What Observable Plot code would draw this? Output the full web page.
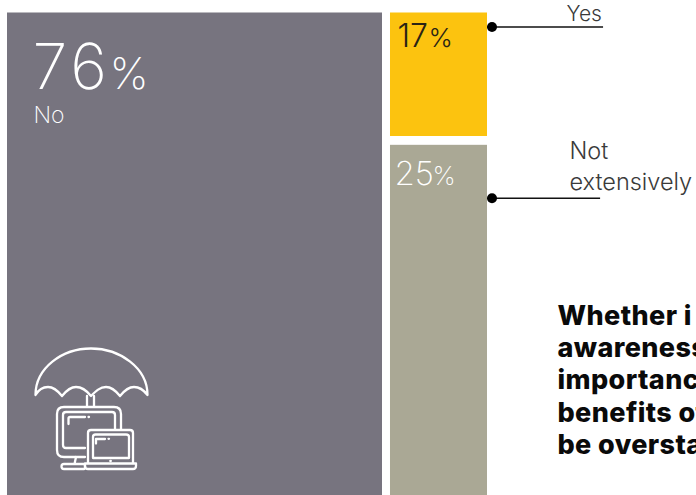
<!DOCTYPE html>
<html>
<head>
<meta charset="utf-8">
<script src="https://cdn.jsdelivr.net/npm/d3@7"></script>
<script src="https://cdn.jsdelivr.net/npm/@observablehq/plot@0.6"></script>
<style>
  html, body { margin: 0; padding: 0; background: #fff; overflow: hidden; }
  .plot { display: block; }
  .thin text { font-family: Inter, "Open Sans", sans-serif; font-weight: 300; }
  .hair text { font-family: Inter, "Open Sans", sans-serif; font-weight: 200; }
  .wide text { font-family: Inter, "Open Sans", sans-serif; font-weight: 200; letter-spacing: 4px; }
  .heavy text { font-family: Inter, sans-serif; font-weight: 800; letter-spacing: 0.4px; }
</style>
</head>
<body>
<script>
// Survey answers, in percent
const answers = ["No", "Yes", "Not extensively"];
const shares = [76, 17, 25];
const fills = ["#77747f", "#fcc30f", "#aaa895"];
const inkColors = ["#ffffff", "#2a2415", "#ffffff"];
const note = ["Whether i", "awareness", "importance", "benefits of", "be overstated"];

const sideStart = 77.62;  // left edge of the narrow column
const sideEnd = 97.28;    // right edge of the narrow column
const stackGap = 0.8;     // space between the stacked answers

const rows = [
  {answer: answers[0], share: shares[0], x1: 0, x2: shares[0], y1: 0, y2: shares[0], fill: fills[0], ink: inkColors[0]},
  {answer: answers[1], share: shares[1], x1: sideStart, x2: sideEnd, y1: 0, y2: shares[1], fill: fills[1], ink: inkColors[1]},
  {answer: answers[2], share: shares[2], x1: sideStart, x2: sideEnd, y1: shares[1] + stackGap, y2: shares[1] + stackGap + shares[2], fill: fills[2], ink: inkColors[2]}
];

// Device glyph under the umbrella, drawn in the frame's own pixels
function shelterIcon() {
  const g = d3.create("svg:g")
    .attr("fill", "none").attr("stroke", "#fff").attr("stroke-width", 2.3)
    .attr("stroke-linejoin", "round").attr("stroke-linecap", "round");
  const path = d => g.append("path").attr("d", d);
  path("M35.500 395C35.500 368 62 348.500 91 348.500C120 348.500 147.500 368 147.500 395C143 389 139 387 134 387C128 387 124 391 120 396C116 391 112 387 106 387C100 387 96 391 91 396C87 391 82 387 76 387C70 387 66 391 62 396C58 391 54 387 48 387C43 387 39 389 35.500 395Z");
  path("M87 396V406M94 396V406");
  path("M85 457H64Q57 457 57 450V414Q57 407 64 407H114Q121 407 121 414V429");
  path("M85 448H66Q63 448 63 445V415Q63 412 66 412H112Q115 412 115 415V429");
  path("M68.500 424V418.500Q68.500 417 70 417H85M88.500 417H89");
  path("M76 457L74.500 464M64 464H84Q85 464 85 466.500Q85 469 84 469H64Q61.500 469 61.500 466.500Q61.500 464 64 464Z");
  path("M88 463V433Q88 430 91 430H130Q133 430 133 433V463");
  path("M93 458V437Q93 434.500 95.500 434.500H126Q129 434.500 129 437V458Z");
  path("M96 443.500V439H105M108.500 438.800H109");
  path("M110.300 461H110.800");
  path("M85 463.500H136V466Q136 469 133 469H88Q85 469 85 466Z");
  return g.node();
}

const thin = {textAnchor: "start", lineAnchor: "bottom", className: "thin"};
const hair = {textAnchor: "start", lineAnchor: "bottom", className: "hair"};

const chart = Plot.plot({
  width: 696,
  height: 495,
  margin: 0,
  style: {background: "#fff"},
  x: {axis: null, domain: [0, 76], range: [7, 382]},
  y: {axis: null, type: "pow", exponent: 1.5, domain: [0, 17], range: [12.500, 136]},
  marks: [
    Plot.rect(rows, {x1: "x1", x2: "x2", y1: "y1", y2: "y2", fill: "fill"}),

    // Leader rules from the right edge of the narrow column
    ...[[rows[1], 14, 120.800], [rows[2], 53, 120.200]].flatMap(([row, drop, end]) => [
      Plot.ruleY([row], {y: "y1", x1: sideEnd, x2: end, dy: drop, stroke: "#111", strokeWidth: 1.500}),
      Plot.dot([row], {x: sideEnd, y: "y1", dx: 4.500, dy: drop, r: 5, fill: "#000"})
    ]),

    // Big figure for the wide column
    Plot.text([String(shares[0])], {x: 0, y: 0, dx: 25, dy: 75.500, text: d => d, fontSize: 63, fill: "#fff", textAnchor: "start", lineAnchor: "bottom", className: "wide"}),
    Plot.text(["%"], {x: 0, y: 0, dx: 102, dy: 75.500, text: d => d, fontSize: 44, fill: "#fff", ...hair}),
    Plot.text([answers[0]], {x: 0, y: 0, dx: 26, dy: 110, text: d => d, fontSize: 23, fill: "#fff", ...hair}),

    // Figures inside the narrow column
    Plot.text([rows[1]], {x: "x1", y: "y1", dx: 7, dy: 33.500, text: d => String(d.share), fontSize: 32, fill: "ink", ...thin}),
    Plot.text([rows[1]], {x: "x1", y: "y1", dx: 38, dy: 33.500, text: () => "%", fontSize: 26, fill: "ink", ...thin}),
    Plot.text([rows[2]], {x: "x1", y: "y1", dx: 4, dy: 40, text: d => String(d.share), fontSize: 33, fill: "ink", ...hair}),
    Plot.text([rows[2]], {x: "x1", y: "y1", dx: 42, dy: 40, text: () => "%", fontSize: 26, fill: "ink", ...hair}),

    // Answer names beside the leaders
    Plot.text([answers[1]], {x: sideEnd, y: 0, dx: 79, dy: 7.500, text: d => d, fontSize: 21, fill: "#3a3a3a", ...thin}),
    Plot.text([answers[2].replace(" ", "\n")], {x: sideEnd, y: rows[2].y1, dx: 82, dy: -8, text: d => d, lineHeight: 1.300, fontSize: 23.500, fill: "#3a3a3a", textAnchor: "start", lineAnchor: "top", className: "thin"}),

    // Closing remark, running past the right edge of the frame
    Plot.text([note.join("\n")], {x: sideEnd, y: rows[2].y1, dx: 70, dy: 157, text: d => d, lineHeight: 1.19, fontSize: 27, fill: "#0a0a0a", textAnchor: "start", lineAnchor: "top", className: "heavy"}),

    shelterIcon
  ]
});
document.body.appendChild(chart);
</script>
</body>
</html>
